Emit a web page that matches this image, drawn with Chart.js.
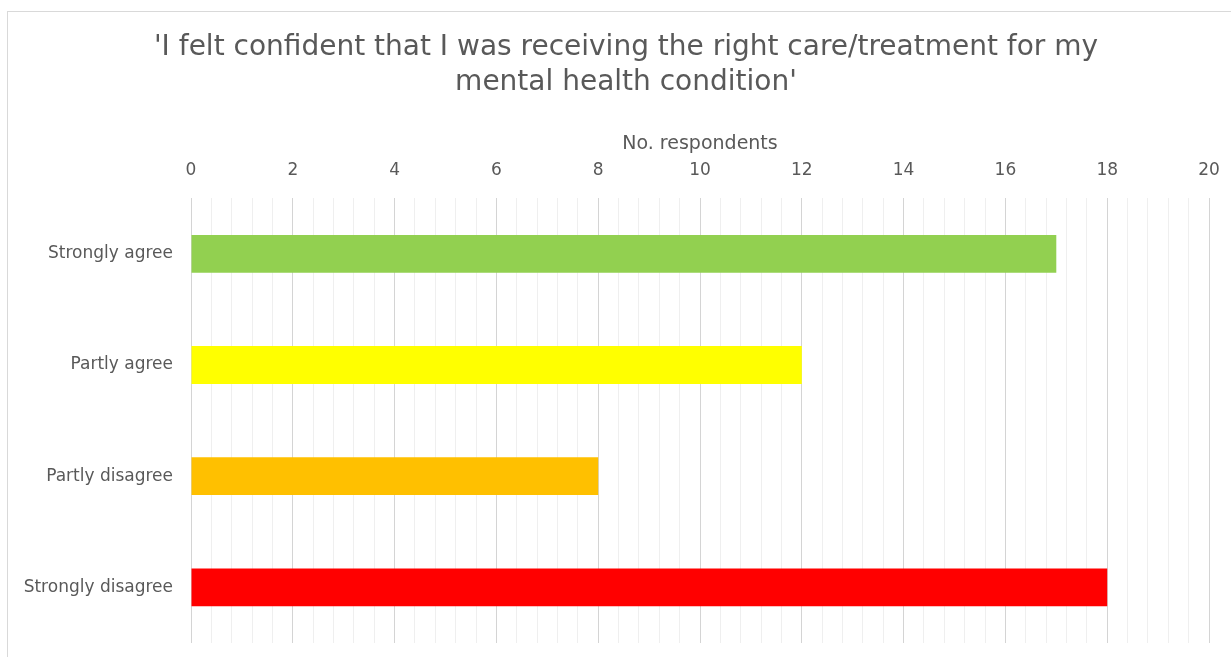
<!DOCTYPE html>
<html>
<head>
<meta charset="utf-8">
<script src="https://cdn.jsdelivr.net/npm/chart.js@4"></script>
<style>
html,body{margin:0;padding:0;background:#fff;}
#wrap{position:relative;width:1231px;height:657px;overflow:hidden;}
#frame{position:absolute;left:7px;top:11px;width:1240px;height:660px;border:1px solid #d9d9d9;box-sizing:border-box;}
canvas{position:absolute;left:0;top:0;}
</style>
</head>
<body>
<div id="wrap">
<div id="frame"></div>
<canvas id="c" width="1231" height="657"></canvas>
</div>
<script>
const categories = ["Strongly agree", "Partly agree", "Partly disagree", "Strongly disagree"];
const respondents = [17, 12, 8, 18];
const barColors = ["#92D050", "#FFFF00", "#FFC000", "#FF0000"];
const titleLines = ["'I felt confident that I was receiving the right care/treatment for my", "mental health condition'"];
const axisTitle = "No. respondents";
const xMin = 0, xMax = 20, majorStep = 2, minorStep = 0.4;

function isMajor(v){ const r = v / majorStep; return Math.abs(r - Math.round(r)) < 1e-6; }

const titleShift = {
  id: 'titleShift',
  afterLayout(chart) { if (chart.titleBlock) { chart.titleBlock.left += 21; } }
};

new Chart(document.getElementById('c'), {
  type: 'bar',
  data: {
    labels: categories,
    datasets: [{
      data: respondents,
      backgroundColor: barColors,
      borderColor: barColors,
      borderWidth: 0,
      barPercentage: 0.34,
      categoryPercentage: 1.0
    }]
  },
  plugins: [titleShift],
  options: {
    indexAxis: 'y',
    responsive: false,
    animation: false,
    layout: { padding: { left: 22, right: 22, top: 30, bottom: 14 } },
    plugins: {
      legend: { display: false },
      tooltip: { enabled: false },
      title: {
        display: true,
        text: titleLines,
        color: '#595959',
        font: { family: 'DejaVu Sans', size: 28, weight: 'normal', lineHeight: 1.25 },
        padding: { top: 0, bottom: 33 }
      }
    },
    scales: {
      x: {
        position: 'top',
        min: xMin,
        max: xMax,
        border: { display: false },
        afterFit: (scale) => { scale.paddingRight = 0; },
        ticks: {
          stepSize: minorStep,
          autoSkip: false,
          maxRotation: 0,
          color: '#595959',
          font: { family: 'DejaVu Sans', size: 17 },
          padding: 17,
          callback: (v) => isMajor(v) ? String(Math.round(v)) : ''
        },
        grid: {
          drawTicks: false,
          color: (ctx) => (ctx.tick && isMajor(ctx.tick.value)) ? '#d4d4d4' : '#efefef',
          lineWidth: 1
        },
        title: {
          display: true,
          text: axisTitle,
          color: '#595959',
          font: { family: 'DejaVu Sans', size: 19 },
          padding: { top: 0, bottom: -12 }
        }
      },
      y: {
        border: { display: false },
        grid: { display: false, drawTicks: false },
        afterFit: (scale) => { scale.width = 169; scale.paddingBottom = 0; },
        ticks: {
          color: '#595959',
          font: { family: 'DejaVu Sans', size: 17 },
          padding: 18
        }
      }
    }
  }
});
</script>
</body>
</html>
